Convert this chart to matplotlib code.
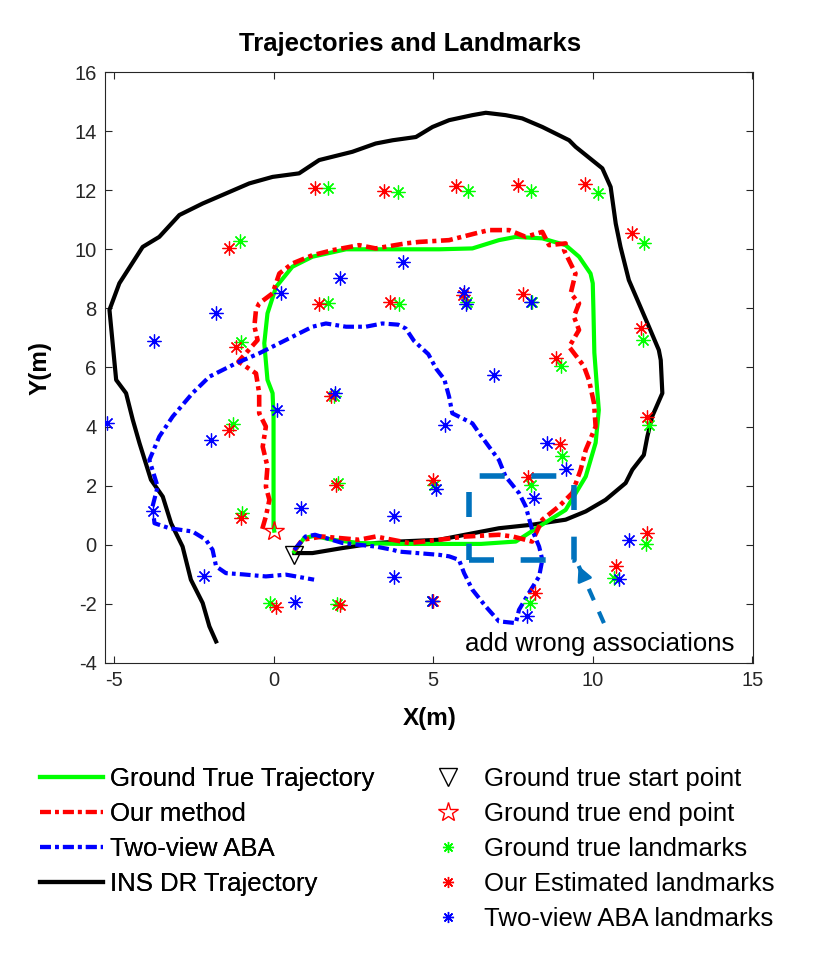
import matplotlib

matplotlib.use('Agg')

import matplotlib.pyplot as plt
from matplotlib.lines import Line2D

plt.rcParams['font.family'] = ['Liberation Sans', 'DejaVu Sans']
plt.rcParams['axes.unicode_minus'] = False

# ground truth trajectory
gt_x = [0.65, 0.96, 1.27, 1.85, 2.68, 3.93, 5.19, 6.5, 7.59, 8.32, 9.15, 9.78, 10.09, 10.19, 10.12, 10.05,
        10.02, 10.0, 9.93, 9.57, 9.15, 8.42, 7.59, 7.06, 6.23, 5.19, 3.93, 2.27, 1.22, 0.59, 0.08, -0.19,
        -0.29, -0.19, -0.03, 0.0, 0.0, 0.02]
gt_y = [-0.23, 0.23, 0.30, 0.17, 0.06, 0.03, 0.03, 0.03, 0.11, 0.62, 1.18, 2.31, 3.45, 4.56, 5.5, 6.5,
        8.0, 8.85, 9.18, 9.75, 10.14, 10.37, 10.42, 10.31, 10.03, 10.0, 10.0, 10.0, 9.75, 9.41, 8.73, 7.83,
        6.82, 5.58, 5.13, 4.34, 0.62, 0.48]

# our method
our_x = [0.65, 0.9, 1.53, 2.68, 3.2, 4.25, 5.19, 6.02, 7.06, 7.5, 8.1, 8.42, 8.94, 9.36, 9.62, 9.78, 10.09,
         10.04, 9.88, 9.72, 9.26, 9.57, 9.41, 9.57, 9.31, 9.46, 9.1, 9.15, 8.63, 8.42, 7.9, 7.38, 6.75, 6.33,
         5.5, 4.56, 4.14, 3.2, 2.68, 1.85, 1.22, 0.59, 0.18, -0.03, -0.45, -0.55, -0.6, -0.5, -1.1, -0.55,
         -0.45, -0.45, -0.24, -0.34, -0.19, -0.24, -0.13, -0.24, -0.39]
our_y = [-0.2, 0.17, 0.28, 0.17, 0.28, 0.06, 0.17, 0.28, 0.34, 0.28, 0.11, 0.85, 1.3, 1.75, 2.54, 3.21, 4.0,
         4.79, 5.58, 6.05, 6.7, 7.27, 7.72, 8.17, 8.51, 9.18, 9.97, 10.2, 10.14, 10.59, 10.42, 10.65, 10.65,
         10.54, 10.31, 10.25, 10.2, 10.03, 10.14, 9.97, 9.8, 9.52, 9.18, 8.51, 8.17, 7.95, 7.4, 6.93, 6.2,
         5.8, 5.13, 4.45, 4.0, 3.32, 2.65, 1.97, 1.52, 0.96, 0.4]

# two-view ABA
aba_x = [0.65, 1.0, 1.3, 2.16, 3.2, 3.73, 3.93, 5.19, 5.5, 5.81, 5.97, 6.23, 6.65, 7.06, 7.59, 7.69, 8.0,
         8.32, 8.42, 8.32, 8.1, 7.9, 7.69, 7.27, 7.06, 6.75, 6.44, 6.23, 5.6, 5.5, 5.35, 5.1, 4.85, 4.4,
         4.14, 3.9, 3.41, 2.89, 2.27, 1.64, 1.22, 0.59, -0.45, -1.18, -2.01, -2.54, -3.16, -3.58, -3.89,
         -3.63, -3.79, -3.73, -3.26, -2.54, -2.12, -1.91, -1.8, -1.49, -0.97, -0.24, 0.39, 1.27]
aba_y = [-0.17, 0.28, 0.34, 0.06, -0.06, -0.17, -0.23, -0.34, -0.39, -0.51, -0.96, -1.52, -2.09, -2.59,
         -2.65, -2.2, -1.63, -1.07, -0.51, -0.06, 0.51, 1.3, 1.75, 2.31, 2.87, 3.32, 3.78, 4.11, 4.45, 5.01,
         5.6, 5.95, 6.45, 6.9, 7.32, 7.45, 7.49, 7.38, 7.38, 7.49, 7.38, 7.04, 6.48, 6.14, 5.69, 5.13, 4.34,
         3.66, 2.87, 1.97, 1.3, 0.73, 0.56, 0.45, 0.17, -0.17, -0.73, -0.96, -1.0, -1.07, -1.01, -1.18]

# INS dead reckoning
ins_x = [0.65, 1.22, 2.16, 3.2, 3.93, 5.19, 6.0, 7.06, 8.1, 9.15, 9.78, 10.4, 11.03, 11.24, 11.6, 11.71,
         11.86, 12.18, 12.13, 12.07, 11.76, 11.13, 10.87, 10.72, 10.56, 10.3, 9.46, 9.26, 8.42, 7.79, 7.27,
         6.65, 6.23, 5.5, 4.98, 4.46, 3.73, 3.2, 2.47, 1.43, 0.8, -0.03, -0.76, -1.49, -2.22, -2.95, -3.58,
         -4.1, -4.83, -5.14, -4.99, -4.93, -4.62, -4.41, -4.2, -3.84, -3.47, -3.21, -2.85, -2.59, -2.22,
         -2.01, -1.8]
ins_y = [-0.28, -0.28, -0.11, 0.06, 0.11, 0.17, 0.34, 0.56, 0.68, 0.85, 1.13, 1.52, 2.09, 2.54, 3.04, 3.66,
         4.34, 5.13, 6.25, 6.59, 7.38, 8.96, 10.08, 10.87, 12.11, 12.74, 13.47, 13.69, 14.14, 14.43, 14.54,
         14.62, 14.54, 14.37, 14.14, 13.8, 13.69, 13.58, 13.3, 13.02, 12.57, 12.45, 12.23, 11.89, 11.55,
         11.16, 10.42, 10.08, 8.85, 7.95, 6.25, 5.58, 5.13, 4.23, 3.44, 2.2, 1.63, 0.73, -0.06, -1.18, -1.97,
         -2.76, -3.27]

start_pt = (0.65, -0.34)
end_pt = (0.02, 0.48)

# landmarks
lm_gt_x = [1.71, 3.9, 6.09, 8.08, 10.16, -1.04, 11.6, 1.71, 3.93, 6.05, 8.1, -1.02, 11.58, 9.0, -1.26, 11.76,
           9.05, 1.9, -0.99, 2.02, 5.03, 8.05, 11.66, -0.11, 2.0, 4.95, 8.03, 10.66]
lm_gt_y = [12.06, 11.95, 11.98, 11.98, 11.91, 10.28, 10.22, 8.17, 8.14, 8.2, 8.2, 6.87, 6.93, 6.05, 4.09, 4.06,
           3.01, 5.05, 1.09, 2.08, 2.03, 2.03, 0.03, -1.97, -2.0, -1.9, -1.97, -1.13]
lm_our_x = [1.29, 3.46, 5.71, 7.66, 9.76, -1.41, 11.22, 1.43, 3.65, 5.92, 7.82, -1.18, 11.5, 8.84, -1.41,
            11.71, 8.96, 1.8, -1.02, 1.97, 4.98, 7.98, 11.71, 0.08, 2.08, 4.98, 8.19, 10.72]
lm_our_y = [12.06, 11.97, 12.14, 12.19, 12.2, 10.05, 10.56, 8.15, 8.2, 8.45, 8.5, 6.68, 7.32, 6.31, 3.87,
            4.34, 3.41, 5.04, 0.9, 2.03, 2.2, 2.31, 0.4, -2.11, -2.03, -1.9, -1.63, -0.71]
lm_aba_x = [-3.76, -1.8, 0.23, 2.09, 4.07, 5.97, 6.04, 8.08, 6.91, -5.22, -1.96, 0.1, 1.92, 5.37, 8.58, 9.15,
            8.16, 5.08, 0.86, -3.79, 3.78, -2.17, 0.68, 3.78, 4.96, 7.93, 10.82, 11.13]
lm_aba_y = [6.9, 7.83, 8.51, 9.04, 9.58, 8.54, 8.15, 8.23, 5.75, 4.11, 3.55, 4.56, 5.13, 4.06, 3.44, 2.57,
            1.58, 1.88, 1.26, 1.16, 0.96, -1.05, -1.95, -1.09, -1.9, -2.42, -1.15, 0.15]

# wrong association box and arrow
box_x = [6.12, 9.41]
box_y = [-0.51, 2.33]
arrow_tail = (10.35, -2.65)
arrow_tip = (9.52, -0.62)

fig = plt.figure(figsize=(8.3, 9.64), dpi=100)
ax = fig.add_axes([105 / 830, 1 - 663 / 964, 648 / 830, 591 / 964])

dash_dot = (0, (2.6, 1.0, 0.9, 1.0))
ax.plot(ins_x, ins_y, color='black', lw=3, zorder=2)
ax.plot(gt_x, gt_y, color='#00ff00', lw=3, zorder=3)
ax.plot(our_x, our_y, color='red', lw=3.3, ls=dash_dot, zorder=4)
ax.plot(aba_x, aba_y, color='blue', lw=3, ls=dash_dot, zorder=4)

star = (8, 2, 0)
ax.plot(lm_gt_x, lm_gt_y, ls='none', marker=star, ms=10, mew=0.9, color='#00ff00', zorder=5)
ax.plot(lm_our_x, lm_our_y, ls='none', marker=star, ms=10, mew=0.9, color='red', zorder=5)
ax.plot(lm_aba_x, lm_aba_y, ls='none', marker=star, ms=10, mew=0.9, color='blue', zorder=5)

ax.plot(*start_pt, marker='v', ms=13, mfc='none', mec='black', mew=1, zorder=6)
ax.plot(*end_pt, marker='*', ms=15, mfc='none', mec='red', mew=1, zorder=6)

# dashed box
bx = [box_x[0], box_x[1], box_x[1], box_x[0], box_x[0]]
by = [box_y[0], box_y[0], box_y[1], box_y[1], box_y[0]]
ax.plot(bx, by, color='#0072bd', lw=4, ls=(0, (4.5, 4.8)), zorder=7)
ax.plot([arrow_tail[0], arrow_tip[0]], [arrow_tail[1], arrow_tip[1]], color='#0072bd', lw=3,
        ls=(0, (3, 3)), zorder=7)
ax.annotate('', xy=arrow_tip, xytext=(arrow_tip[0] + 0.12, arrow_tip[1] - 0.3),
            arrowprops=dict(arrowstyle='-|>,head_length=0.9,head_width=0.45', color='#0072bd', lw=2),
            zorder=7)
ax.text(6.0, -3.58, 'add wrong associations', fontsize=18.5, ha='left', va='baseline')

ax.set_xlim(-5.28, 15.02)
ax.set_ylim(-4, 16)
ax.set_xticks([-5, 0, 5, 10, 15])
ax.set_yticks(range(-4, 17, 2))
ax.tick_params(direction='in', length=5, width=0.8, labelsize=14.5, colors='#262626',
               top=True, right=True, pad=6)
for s in ax.spines.values():
    s.set_linewidth(0.8)
    s.set_color('#262626')

fig.text(410 / 830, 1 - 50.5 / 964, 'Trajectories and Landmarks', fontsize=18.5, fontweight='bold',
         ha='center', va='baseline')
fig.text(430 / 830, 1 - 718 / 964, 'X(m)', fontsize=17.5, fontweight='bold', ha='center', va='center')
fig.text(40 / 830, 1 - 368 / 964, 'Y(m)', fontsize=17.5, fontweight='bold', ha='center', va='center',
         rotation=90)

# legends
left_handles = [
    Line2D([], [], color='#00ff00', lw=3),
    Line2D([], [], color='red', lw=3, ls=dash_dot),
    Line2D([], [], color='blue', lw=3, ls=dash_dot),
    Line2D([], [], color='black', lw=3),
]
left_labels = ['Ground True Trajectory', 'Our method', 'Two-view ABA', 'INS DR Trajectory']
right_handles = [
    Line2D([], [], ls='none', marker='v', ms=13, mfc='none', mec='black', mew=1),
    Line2D([], [], ls='none', marker='*', ms=15, mfc='none', mec='red', mew=1),
    Line2D([], [], ls='none', marker=star, ms=8, mew=1, color='#00ff00'),
    Line2D([], [], ls='none', marker=star, ms=8, mew=1, color='red'),
    Line2D([], [], ls='none', marker=star, ms=8, mew=1, color='blue'),
]
right_labels = ['Ground true start point', 'Ground true end point', 'Ground true landmarks',
                'Our Estimated landmarks', 'Two-view ABA landmarks']

fs = 18.5
fpx = fs * 100 / 72
top = 1 - 767 / 964
leg1 = fig.legend(left_handles, left_labels, loc='upper left', bbox_to_anchor=(40 / 830, top),
                  frameon=False, fontsize=fs, borderpad=0, borderaxespad=0, handlelength=63 / fpx,
                  handletextpad=7 / fpx, labelspacing=0.43)
leg2 = fig.legend(right_handles, right_labels, loc='upper left',
                  bbox_to_anchor=((448 - fpx / 2) / 830, top), frameon=False, fontsize=fs,
                  borderpad=0, borderaxespad=0, handlelength=1.0, handletextpad=(484 - 448 - fpx / 2) / fpx,
                  labelspacing=0.43)
fig.add_artist(leg1)

fig.savefig('out.png', dpi=100)
